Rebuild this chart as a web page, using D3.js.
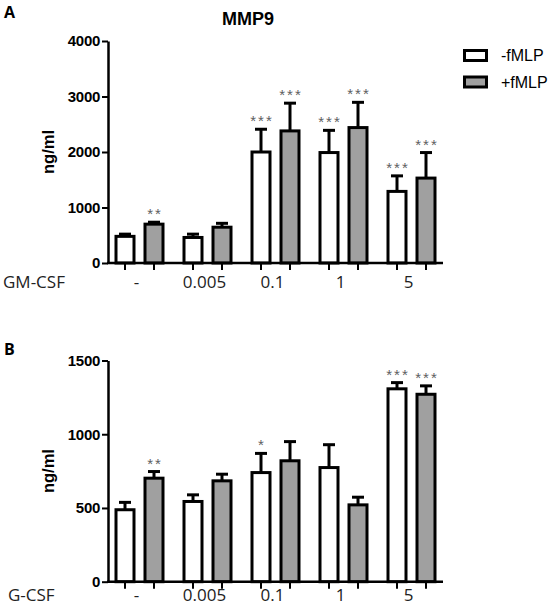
<!DOCTYPE html>
<html>
<head>
<meta charset="utf-8">
<script src="https://cdn.jsdelivr.net/npm/d3@7/dist/d3.min.js"></script>
<style>
  html, body { margin: 0; padding: 0; background: #fff; }
  svg { display: block; }
</style>
</head>
<body>
<svg id="chart" width="556" height="606"></svg>
<script>
// ---------------- data ----------------
const groups = ["-", "0.005", "0.1", "1", "5"];
const series = ["-fMLP", "+fMLP"];

// Panel A: GM-CSF
const gmMinus    = [480, 460, 2000, 1990, 1290];
const gmMinusErr = [40, 60, 410, 400, 280];
const gmPlus     = [700, 645, 2380, 2440, 1530];
const gmPlusErr  = [35, 70, 500, 455, 460];
const gmMinusSig = ["", "", "***", "***", "***"];
const gmPlusSig  = ["**", "", "***", "***", "***"];
const gmTicks    = [0, 1000, 2000, 3000, 4000];

// Panel B: G-CSF
const gMinus     = [488, 544, 740, 774, 1308];
const gMinusErr  = [50, 45, 130, 155, 42];
const gPlus      = [702, 684, 820, 521, 1271];
const gPlusErr   = [45, 45, 130, 52, 57];
const gMinusSig  = ["", "", "*", "", "***"];
const gPlusSig   = ["**", "", "", "", "***"];
const gTicks     = [0, 500, 1000, 1500];

// ---------------- drawing ----------------
const svg = d3.select("#chart");
const fills = { "-fMLP": "#ffffff", "+fMLP": "#a0a0a0" };

const x0 = d3.scaleBand().domain(groups).range([105.5, 445.5]);
const x1 = d3.scaleBand().domain(series).range([5, 63]);
const cx = (g, s) => x0(g) + x1(s) + x1.bandwidth() / 2;
const barW = 18;
const axisX = 108, axisRight = 443;

function panel(opts) {
  const y = d3.scaleLinear().domain([0, opts.max]).range([opts.bottom, opts.top]);
  const g = svg.append("g");

  const rows = [];
  groups.forEach((grp, i) => {
    rows.push({ grp, s: "-fMLP", v: opts.minus[i], e: opts.minusErr[i], sig: opts.minusSig[i] });
    rows.push({ grp, s: "+fMLP", v: opts.plus[i], e: opts.plusErr[i], sig: opts.plusSig[i] });
  });

  // error bars (upper only)
  g.selectAll(".err").data(rows).join("line")
    .attr("x1", d => cx(d.grp, d.s)).attr("x2", d => cx(d.grp, d.s))
    .attr("y1", d => y(d.v)).attr("y2", d => y(d.v + d.e))
    .attr("stroke", "#000").attr("stroke-width", 3);
  g.selectAll(".cap").data(rows).join("line")
    .attr("x1", d => cx(d.grp, d.s) - 6).attr("x2", d => cx(d.grp, d.s) + 6)
    .attr("y1", d => y(d.v + d.e)).attr("y2", d => y(d.v + d.e))
    .attr("stroke", "#000").attr("stroke-width", 3);

  // bars
  g.selectAll(".bar").data(rows).join("rect")
    .attr("x", d => cx(d.grp, d.s) - barW / 2)
    .attr("y", d => y(d.v))
    .attr("width", barW)
    .attr("height", d => y(0) - y(d.v))
    .attr("fill", d => fills[d.s])
    .attr("stroke", "#000").attr("stroke-width", 3);

  // significance stars
  g.selectAll(".sig").data(rows.filter(d => d.sig)).join("text")
    .attr("x", d => cx(d.grp, d.s) + 1)
    .attr("y", d => y(d.v + d.e) - 3)
    .attr("text-anchor", "middle")
    .attr("font-family", "'Liberation Sans', Arial, sans-serif")
    .attr("font-size", 15)
    .attr("letter-spacing", 2)
    .attr("fill", "#606060")
    .text(d => d.sig);

  // y axis
  const yAxis = d3.axisLeft(y).tickValues(opts.ticks).tickFormat(d3.format("d"))
    .tickSize(6).tickSizeOuter(0).tickPadding(2);
  const ya = g.append("g").attr("transform", `translate(${axisX},0)`).call(yAxis);
  ya.select(".domain").attr("stroke", "#000").attr("stroke-width", 2.5);
  ya.selectAll(".tick line").attr("stroke", "#000").attr("stroke-width", 2);
  ya.selectAll(".tick text")
    .attr("font-family", "'Liberation Sans', Arial, sans-serif")
    .attr("font-weight", "bold").attr("font-size", 15).attr("fill", "#000")
    .attr("letter-spacing", -0.3);

  // x axis line + ticks
  g.append("line").attr("x1", axisX - 1).attr("x2", axisRight)
    .attr("y1", y(0)).attr("y2", y(0))
    .attr("stroke", "#000").attr("stroke-width", 2.5);
  g.selectAll(".xt").data(rows).join("line")
    .attr("x1", d => cx(d.grp, d.s)).attr("x2", d => cx(d.grp, d.s))
    .attr("y1", y(0)).attr("y2", y(0) + 7)
    .attr("stroke", "#000").attr("stroke-width", 2);

  // category labels
  g.selectAll(".cat").data(groups).join("text")
    .attr("x", d => x0(d) + x0.bandwidth() / 2 - 3)
    .attr("y", opts.labelY)
    .attr("text-anchor", "middle")
    .attr("font-family", "'Open Sans', sans-serif")
    .attr("font-size", 17).attr("fill", "#222")
    .text(d => d);
  g.append("text").attr("x", opts.factorX).attr("y", opts.labelY)
    .attr("font-family", "'Open Sans', sans-serif")
    .attr("font-size", 17).attr("fill", "#222")
    .text(opts.factor);

  // y label
  g.append("text")
    .attr("transform", `translate(54,${(opts.top + opts.bottom) / 2}) rotate(-90)`)
    .attr("text-anchor", "middle")
    .attr("font-family", "'Liberation Sans', Arial, sans-serif")
    .attr("font-weight", "bold").attr("font-size", 16.5).attr("fill", "#000")
    .text("ng/ml");

  // panel letter
  g.append("text").attr("x", 4).attr("y", opts.letterY)
    .attr("font-family", "'Open Sans', sans-serif")
    .attr("font-weight", "bold").attr("font-size", 16).attr("fill", "#000")
    .text(opts.letter);
}

panel({ max: 4000, top: 41, bottom: 263, ticks: gmTicks,
  minus: gmMinus, minusErr: gmMinusErr, plus: gmPlus, plusErr: gmPlusErr,
  minusSig: gmMinusSig, plusSig: gmPlusSig,
  labelY: 288, factor: "GM-CSF", factorX: 3, letter: "A", letterY: 18 });

panel({ max: 1500, top: 360.5, bottom: 581.7, ticks: gTicks,
  minus: gMinus, minusErr: gMinusErr, plus: gPlus, plusErr: gPlusErr,
  minusSig: gMinusSig, plusSig: gPlusSig,
  labelY: 601, factor: "G-CSF", factorX: 8, letter: "B", letterY: 355 });

// title
svg.append("text").attr("x", 222).attr("y", 25)
  .attr("font-family", "'Liberation Sans', Arial, sans-serif")
  .attr("font-weight", "bold").attr("font-size", 18).attr("fill", "#000")
  .text("MMP9");

// legend
const leg = svg.append("g");
leg.selectAll("rect").data(series).join("rect")
  .attr("x", 464.5).attr("y", (d, i) => 50.5 + i * 26.5)
  .attr("width", 22).attr("height", 10)
  .attr("fill", d => fills[d]).attr("stroke", "#000").attr("stroke-width", 3);
leg.selectAll("text").data(series).join("text")
  .attr("x", 501).attr("y", (d, i) => 55.5 + i * 27)
  .attr("dominant-baseline", "central")
  .attr("font-family", "'Liberation Sans', Arial, sans-serif")
  .attr("font-size", 16).attr("fill", "#000")
  .text(d => d);
</script>
</body>
</html>
